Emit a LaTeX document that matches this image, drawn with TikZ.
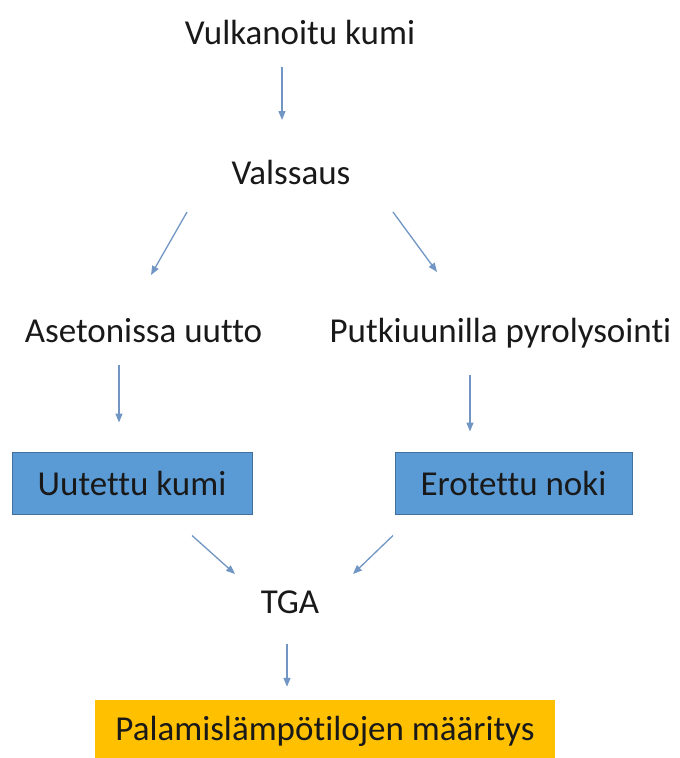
\documentclass[tikz,border=0pt]{standalone}
\usepackage{fontspec}
\setmainfont{Carlito}[Ligatures={NoCommon}]
\usepackage{xcolor}
\usetikzlibrary{arrows.meta, positioning}

\definecolor{boxblue}{HTML}{5B9BD5}
\definecolor{boxedge}{HTML}{41719C}
\definecolor{boxorange}{HTML}{FFC000}
\definecolor{arrowblue}{HTML}{7196C4}

\begin{document}
\begin{tikzpicture}[
  x=1pt, y=-1pt,
  font=\fontsize{35}{42}\selectfont,
  >={Triangle[length=9pt,width=7pt]},
  stage/.style={inner sep=0pt, anchor=base, text=black!90},
  result/.style={rectangle, draw=boxedge, line width=1pt, fill=boxblue,
                 minimum height=62pt, align=center, text=black!90},
  final/.style={rectangle, fill=boxorange, minimum width=460pt,
                minimum height=62pt, align=center, text=black!90},
  arrow/.style={->, line width=1.3pt, draw=arrowblue}
]
\useasboundingbox[fill=white] (0,0) rectangle (680,758);

% --- process steps ---
\node[stage] (vulk)  at (300,44)    {Vulkanoitu kumi};
\node[stage] (vals)  at (291,184)   {Valssaus};
\node[stage] (aset)  at (143.5,342) {Asetonissa uutto};
\node[stage] (putki) at (500.5,342) {Putkiuunilla pyrolysointi};

% --- products ---
\node[result, minimum width=240pt] (uut)  at (132,483)   {Uutettu kumi};
\node[result, minimum width=237pt] (erot) at (513.5,483) {Erotettu noki};

% --- analysis ---
\node[stage] (tga) at (290,613) {TGA};
\node[final] (pal) at (325,731) {Palamislämpötilojen määritys};

% --- arrows ---
\draw[arrow] ([shift={(-18,23)}]vulk.base) -- ([shift={(-9,-64)}]vals.base);
\draw[arrow] ([shift={(-104,28)}]vals.base) -- ([shift={(7.5,-67)}]aset.base);
\draw[arrow] ([shift={(102,28)}]vals.base) -- ([shift={(-63.5,-70)}]putki.base);
\draw[arrow] ([shift={(-24.5,23)}]aset.base) -- ([shift={(-13,-29)}]uut.north);
\draw[arrow] ([shift={(-30.5,33)}]putki.base) -- ([shift={(-43.5,-20)}]erot.north);
\draw[arrow] ([shift={(60,21)}]uut.south) -- ([shift={(-55,-39)}]tga.base);
\draw[arrow] ([shift={(-120.5,21)}]erot.south) -- ([shift={(63,-39)}]tga.base);
\draw[arrow] ([shift={(-3,31)}]tga.base) -- ([shift={(-38,-13)}]pal.north);
\end{tikzpicture}
\end{document}
